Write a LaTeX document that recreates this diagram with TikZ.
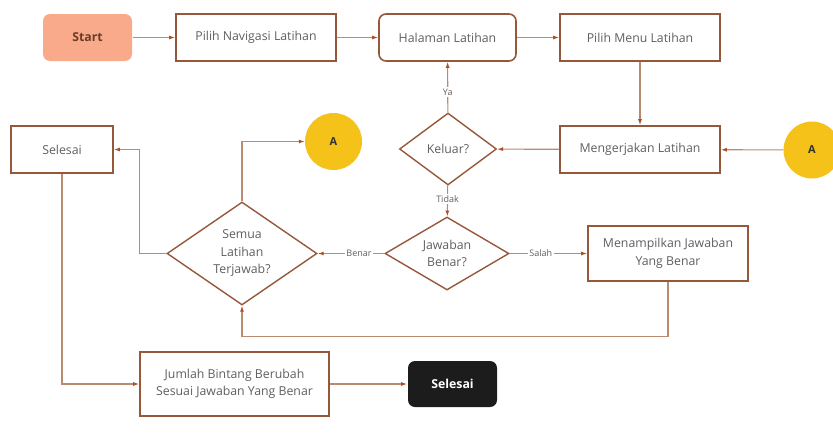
\documentclass[tikz,border=0pt]{standalone}
\usepackage{fontspec}
\setmainfont{Open Sans}
\usepackage{tikz}
\definecolor{brd}{RGB}{150, 88, 58}
\definecolor{ln}{RGB}{185, 140, 112}
\definecolor{tip}{RGB}{178, 78, 38}
\definecolor{txt}{RGB}{95, 95, 95}
\definecolor{sal}{RGB}{248, 170, 138}
\definecolor{gold}{RGB}{244, 194, 24}
\definecolor{blk}{RGB}{28, 28, 28}
\usetikzlibrary{positioning}
\usetikzlibrary{shapes.geometric}
\usetikzlibrary{arrows.meta}
\tikzset{
  box/.style={rectangle, inner sep=0pt, draw=brd, line width=1.6pt, fill=white, text=txt, font=\fontsize{12.3}{17.5}\selectfont, align=center},
  rbox/.style={box, rounded corners=7pt},
  dec/.style={diamond, inner sep=0pt, aspect=1.3, draw=brd, line width=1.4pt, fill=white, text=txt, font=\fontsize{12.3}{17.5}\selectfont, align=center},
  con/.style={circle, inner sep=0pt, minimum size=57pt, fill=gold, text=black!80, font=\fontsize{11}{13}\selectfont\bfseries},
  flow/.style={line width=1.1pt, color=ln, -{Latex[length=6pt, width=4pt, color=tip]}},
  lbl/.style={fill=white, text=txt, inner sep=1.5pt, font=\fontsize{9}{11}\selectfont},
}
\begin{document}
\begin{tikzpicture}[x=1pt, y=1pt]
\useasboundingbox (0, 0) rectangle (833, -439);
\node (1) [rbox, draw=none, fill=sal, text=brd!70!black, minimum width=89pt, minimum height=47pt, font=\fontsize{12.3}{15}\selectfont\bfseries] at (87.5, -37.5) {Start};
\node (2) [box, minimum width=160pt, minimum height=47pt] at (256.0, -37.5) {Pilih Navigasi Latihan};
\node (3) [rbox, minimum width=137pt, minimum height=47pt] at (447.5, -37.5) {Halaman Latihan};
\node (4) [box, minimum width=160pt, minimum height=47pt] at (640.0, -37.5) {Pilih Menu Latihan};
\node (5) [box, minimum width=160pt, minimum height=47pt] at (640.0, -149.5) {Mengerjakan Latihan};
\node (6) [con] at (812.0, -150.0) {A};
\node (7) [dec, minimum width=97pt, minimum height=72pt] at (448.0, -149.0) {Keluar?};
\node (8) [dec, minimum width=124pt, minimum height=73pt] at (447.0, -253.5) {Jawaban\\Benar?};
\node (9) [box, minimum width=160pt, minimum height=55pt] at (668.0, -253.5) {Menampilkan Jawaban\\Yang Benar};
\node (10) [dec, minimum width=150pt, minimum height=103pt] at (242.0, -253.5) {Semua\\Latihan\\Terjawab?};
\node (11) [con] at (333.5, -141.5) {A};
\node (12) [box, minimum width=102pt, minimum height=47pt] at (62.0, -149.5) {Selesai};
\node (13) [box, minimum width=189pt, minimum height=64pt] at (234.5, -384.0) {Jumlah Bintang Berubah\\Sesuai Jawaban Yang Benar};
\node (14) [rbox, draw=none, fill=blk, text=white, minimum width=89pt, minimum height=46pt, font=\fontsize{12.3}{15}\selectfont\bfseries] at (452.5, -384.0) {Selesai};
\draw [flow] (1) to (2);
\draw [flow] (2) to (3);
\draw [flow] (3) to (4);
\draw [flow] (4) to (5);
\draw [flow] (6) to (5);
\draw [flow] (5) to (7);
\draw [flow] (7) to node [lbl, pos=0.4] {Ya} (3);
\draw [flow] (7) to node [lbl, pos=0.45] {Tidak} (8);
\draw [flow] (8) to node [lbl, pos=0.4] {Salah} (9);
\draw [flow] (8) to node [lbl, pos=0.38] {Benar} (10);
\draw [flow] (9.south) -- ++(0, -55) -| (10.south);
\draw [flow] (10.north) |- (11.west);
\draw [flow] (10.west) -- ++(-27, 0) |- (12.east);
\draw [flow] (12.south) |- (13.west);
\draw [flow] (13) to (14);
\end{tikzpicture}
\end{document}
